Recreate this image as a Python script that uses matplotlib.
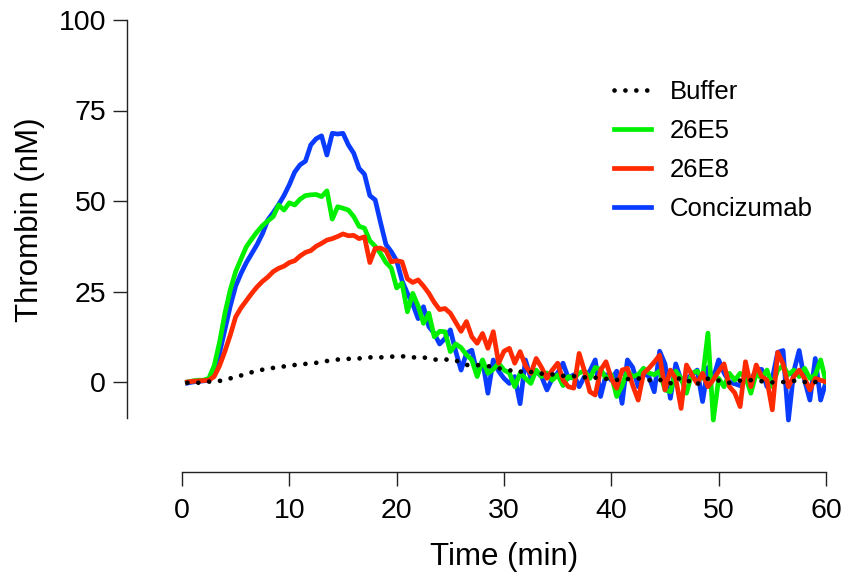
import numpy as np
import matplotlib
matplotlib.use("Agg")
import matplotlib.pyplot as plt

plt.rcParams["font.family"] = ["Liberation Sans", "DejaVu Sans"]

# Sampling grid: one reading every 30 s from 0.5 to 60 min
time_min = np.arange(1, 121) * 0.5

buffer_nm = [
    -0.2, -0.2, -0.2, -0.1, 0.1, 0.2, 0.3, 0.6, 1.0, 1.4,
    1.8, 2.2, 2.7, 3.1, 3.4, 3.6, 3.9, 4.1, 4.3, 4.5,
    4.7, 4.9, 5.0, 5.1, 5.3, 5.5, 5.8, 6.0, 6.2, 6.3,
    6.4, 6.4, 6.5, 6.7, 6.8, 6.8, 6.8, 6.9, 7.0, 7.1,
    7.1, 7.0, 6.8, 6.8, 6.8, 6.5, 6.2, 6.2, 6.2, 6.2,
    6.0, 5.2, 4.7, 4.7, 4.7, 4.5, 4.4, 4.1, 3.8, 3.5,
    3.3, 2.7, 2.8, 3.3, 2.8, 2.2, 2.3, 2.4, 2.1, 1.9,
    1.7, 1.5, 1.6, 1.7, 1.3, 1.0, 1.2, 1.3, 0.9, 0.6,
    0.6, 0.6, 0.8, 0.9, 1.0, 0.8, 0.5, 0.4, 0.6, 0.2,
    -0.4, 1.2, 0.8, 0.0, 0.5, -0.6, 0.5, 0.9, 0.6, 0.4,
    0.0, -0.2, 0.2, 0.4, 0.6, 0.5, 0.4, 0.2, -0.1, -0.1,
    -0.1, 0.0, 0.1, 0.3, 0.4, 0.0, -0.4, 0.0, 0.4, 0.5,
]

ab_26e5 = [
    0.0, 0.3, 0.5, 0.5, 1.0, 4.5, 11.0, 19.0, 25.5, 30.5,
    34.0, 37.4, 39.5, 41.5, 43.2, 44.5, 45.7, 48.9, 47.5, 49.5,
    48.9, 50.5, 51.5, 51.7, 51.8, 51.2, 52.8, 45.0, 48.4, 48.0,
    47.5, 45.7, 43.0, 42.5, 39.0, 37.5, 35.5, 33.0, 31.5, 26.0,
    27.3, 19.4, 24.5, 21.0, 16.2, 19.0, 12.5, 14.0, 13.9, 8.4,
    10.5, 9.5, 7.5, 6.1, 1.5, 6.1, 2.4, 3.5, 5.2, 3.3,
    2.5, -1.3, 2.4, 1.0, -0.4, 3.3, 1.5, 2.5, 0.5, 2.0,
    -1.0, 1.5, 1.0, 2.5, 3.0, 1.0, 4.0, 3.5, 1.0, 2.0,
    -4.0, -1.0, 3.0, 1.5, 2.0, 3.8, 2.5, 2.0, 3.0, -2.2,
    -2.7, 3.0, 1.0, -3.1, 2.4, 3.0, 1.0, 13.5, -10.5, 1.0,
    -1.3, 2.4, 0.5, 2.4, 1.5, -3.1, 2.4, 1.0, 3.3, -1.3,
    3.3, 4.5, 2.0, 3.3, 1.5, 3.8, 1.0, 2.0, 6.1, 0.0,
]

ab_26e8 = [
    0.0, 0.2, 0.3, 0.4, 0.5, 1.5, 4.5, 8.5, 13.0, 18.0,
    20.5, 22.5, 24.5, 26.3, 27.8, 29.0, 30.5, 31.4, 32.0, 33.0,
    33.5, 34.8, 35.8, 36.3, 37.5, 38.3, 39.2, 39.6, 40.2, 40.9,
    40.4, 40.5, 39.6, 40.1, 33.0, 36.9, 37.0, 36.3, 33.2, 33.5,
    33.2, 28.5, 27.5, 28.2, 26.5, 24.5, 22.0, 20.0, 20.3, 19.0,
    16.5, 14.0, 16.7, 12.5, 10.7, 13.4, 9.3, 13.9, 5.2, 8.5,
    9.3, 5.2, 8.4, 4.5, 2.4, 6.5, 4.0, 1.0, 3.3, 5.2,
    0.5, -1.3, -1.7, 7.9, 3.0, -2.7, -3.6, 3.3, 5.6, 1.0,
    -1.7, 3.3, 3.8, -1.0, -5.0, 2.4, 3.8, 5.5, 7.4, -2.2,
    3.3, 1.0, -7.3, 4.7, 2.0, -0.4, 2.4, -1.3, 0.6, 3.0,
    5.0, -1.3, -3.0, -6.8, 5.6, -1.3, 4.7, 1.5, 0.5, -7.7,
    8.2, 5.0, -1.3, 1.5, 3.3, 1.0, -2.2, 1.0, 0.5, 0.0,
]

concizumab = [
    -0.3, 0.0, 0.2, 0.3, 0.5, 2.5, 8.0, 14.5, 21.0, 26.5,
    30.0, 33.0, 35.5, 38.0, 41.0, 44.8, 46.8, 49.0, 51.5, 54.5,
    58.0, 60.0, 61.0, 65.5, 67.2, 68.0, 62.7, 68.7, 68.5, 68.7,
    65.5, 63.2, 59.0, 57.4, 51.5, 50.3, 44.0, 38.0, 36.0, 33.5,
    28.0, 24.5, 21.5, 17.5, 20.8, 15.3, 13.4, 10.5, 12.0, 14.4,
    8.5, 3.3, 7.9, 8.8, 2.4, 6.0, -3.1, 6.1, 3.0, 1.0,
    -0.4, 1.5, -6.0, 6.1, 1.0, 3.0, 1.5, -2.2, 1.0, 2.5,
    5.2, 1.0, 2.0, -1.3, 1.5, 3.0, 6.1, -4.0, 2.0, 0.5,
    3.0, -5.9, 6.1, 4.0, -1.3, 2.5, 1.5, -2.7, 8.5, 5.0,
    -4.5, 5.0, 0.5, 1.0, 2.0, 3.3, -5.4, 4.0, 1.0, 6.1,
    2.5, 0.0, -0.5, -1.0, 1.5, 0.5, 3.3, 3.5, -1.3, 1.0,
    8.2, 8.7, -10.5, 3.0, 8.7, 0.5, -5.0, 6.5, -5.0, 0.0,
]

x_ticks = [0, 10, 20, 30, 40, 50, 60]
y_ticks = [0, 25, 50, 75, 100]

W, H = 845, 576
fig = plt.figure(figsize=(W / 100, H / 100), dpi=100)
ax = fig.add_axes([127 / W, 1 - 472 / H, (826 - 127) / W, (472 - 20) / H])

lw = 3.4
ax.plot(time_min, concizumab, color="#0a3cff", lw=lw, label="Concizumab")
ax.plot(time_min, ab_26e5, color="#00f000", lw=lw, label="26E5")
ax.plot(time_min, ab_26e8, color="#ff2a00", lw=lw, label="26E8")
ax.plot(time_min, buffer_nm, color="black", lw=3.4, linestyle=(0, (0.01, 2.3)),
        dash_capstyle="round", label="Buffer")

px_per_min = (826 - 182) / 60
ax.set_xlim(-(182 - 127) / px_per_min, 60)
px_per_nm = (382 - 20) / 100
ax.set_ylim(-(472 - 382) / px_per_nm, 100)

for side in ("top", "right"):
    ax.spines[side].set_visible(False)
ax.spines["left"].set_bounds(-10, 100)
ax.spines["bottom"].set_bounds(0, 60)
for side in ("left", "bottom"):
    ax.spines[side].set_linewidth(1.0)
    ax.spines[side].set_color("#222222")

ax.set_xticks(x_ticks)
ax.set_yticks(y_ticks)
ax.tick_params(axis="both", length=10, width=1.0, color="#222222", labelsize=20.5)
ax.tick_params(axis="y", pad=5)
ax.tick_params(axis="x", pad=8.5)

ax.set_ylabel("Thrombin (nM)", fontsize=22.5, va="center")
ax.yaxis.set_label_coords((30 - 127) / (826 - 127), (472 - 220) / (472 - 20))
ax.set_xlabel("Time (min)", fontsize=22.5, va="top")
ax.xaxis.set_label_coords((504 - 127) / (826 - 127), (472 - 542) / (472 - 20))

handles, labels = ax.get_legend_handles_labels()
order = [3, 1, 2, 0]
ax.legend([handles[i] for i in order], [labels[i] for i in order],
          loc="center left", bbox_to_anchor=(614 / W, 1 - 150.5 / H),
          bbox_transform=fig.transFigure, frameon=False, fontsize=18.5,
          handlelength=1.45, handletextpad=0.72, labelspacing=0.58,
          borderpad=0, borderaxespad=0)

fig.savefig("out.png", dpi=100)
